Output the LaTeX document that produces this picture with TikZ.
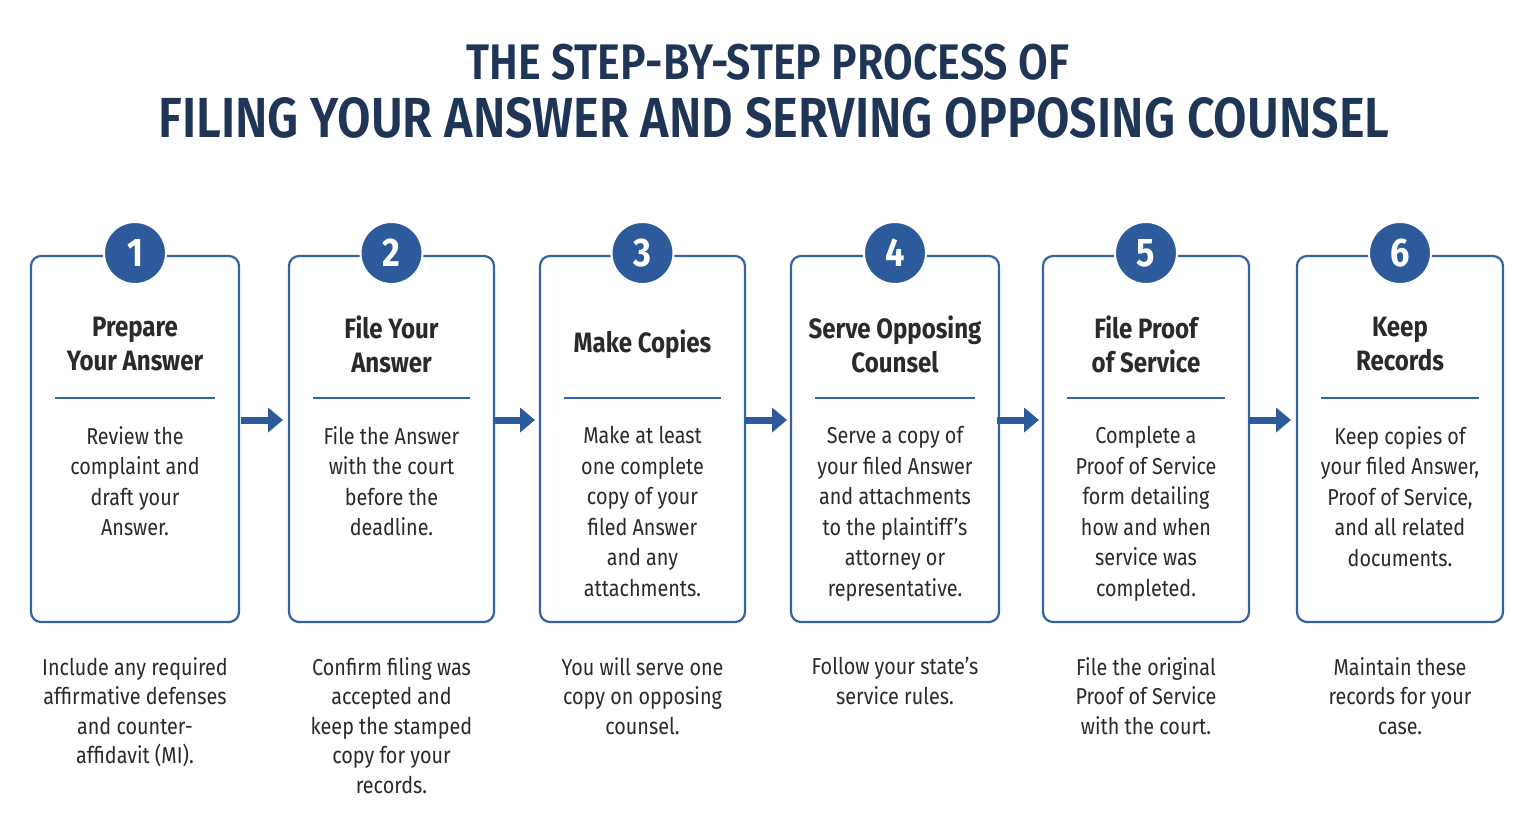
\documentclass[tikz,border=0pt]{standalone}
\usepackage{fontspec}
\usetikzlibrary{arrows.meta}
\setmainfont{Fira Sans}[FakeStretch=0.86]
\newfontfamily\titlefont{Fira Sans SemiBold}[FakeStretch=0.86]
\definecolor{navy}{HTML}{1F3556}
\definecolor{blueb}{HTML}{3363A3}
\definecolor{bluec}{HTML}{2C5A9A}
\definecolor{txt}{HTML}{2A2A2A}
\begin{document}
\begin{tikzpicture}[x=1pt,y=-1pt,
  box/.style={draw=blueb,line width=2.2pt,rounded corners=10pt,fill=white},
  num/.style={circle,fill=bluec,draw=white,line width=2pt,minimum size=62pt,text=white,font=\fontsize{40}{40}\selectfont\bfseries},
  head/.style={align=center,text=txt,font=\fontsize{28}{34}\selectfont\bfseries},
  body/.style={align=center,text=txt,font=\fontsize{23}{30.5}\selectfont,anchor=north},
  note/.style={align=center,text=txt,font=\fontsize{23}{29.5}\selectfont,anchor=north},
  arr/.style={-{Triangle[length=15pt,width=24pt]},line width=7pt,draw=bluec}]
\useasboundingbox (0,0) rectangle (1535,835);
\fill[white] (0,0) rectangle (1535,835);
\node[text=navy,font=\titlefont\fontsize{50}{50}\selectfont] (t1) at (768,62) {THE STEP-BY-STEP PROCESS OF};
\node[text=navy,font=\titlefont\fontsize{56.5}{56.5}\selectfont] (t2) at (774,118) {FILING YOUR ANSWER AND SERVING OPPOSING COUNSEL};
\foreach \i/\xa/\xb/\h/\b/\n in {
1/31/239/{Prepare\\Your Answer}/{Review the\\complaint and\\draft your\\Answer.}/{Include any required\\affirmative defenses\\and counter-\\affidavit (MI).},
2/289/494/{File Your\\Answer}/{File the Answer\\with the court\\before the\\deadline.}/{Confirm filing was\\accepted and\\keep the stamped\\copy for your\\records.},
3/540/745/{Make Copies}/{Make at least\\one complete\\copy of your\\filed Answer\\and any\\attachments.}/{You will serve one\\copy on opposing\\counsel.},
4/791/999/{Serve Opposing\\Counsel}/{Serve a copy of\\your filed Answer\\and attachments\\to the plaintiff's\\attorney or\\representative.}/{Follow your state's\\service rules.},
5/1043/1249/{File Proof\\of Service}/{Complete a\\Proof of Service\\form detailing\\how and when\\service was\\completed.}/{File the original\\Proof of Service\\with the court.},
6/1297/1503/{Keep\\Records}/{Keep copies of\\your filed Answer,\\Proof of Service,\\and all related\\documents.}/{Maintain these\\records for your\\case.}}{
  \draw[box] (\xa,256) rectangle (\xb,622);
  \node[num] (c\i) at ({(\xa+\xb)/2},253) {\i};
  \node[head] (h\i) at ({(\xa+\xb)/2},344) {\h};
  \draw[blueb,line width=1.6pt] ({\xa+24},398) -- ({\xb-24},398);
  \node[body] (b\i) at ({(\xa+\xb)/2},423) {\b};
  \node[note] (n\i) at ({(\xa+\xb)/2},654) {\n};
}
\foreach \x in {241,493,745,997,1249}{
  \coordinate (a\x) at (\x,420);
  \coordinate (e\x) at (\x+42,420);
  \draw[arr] (a\x) -- (e\x);
}
\end{tikzpicture}
\end{document}
